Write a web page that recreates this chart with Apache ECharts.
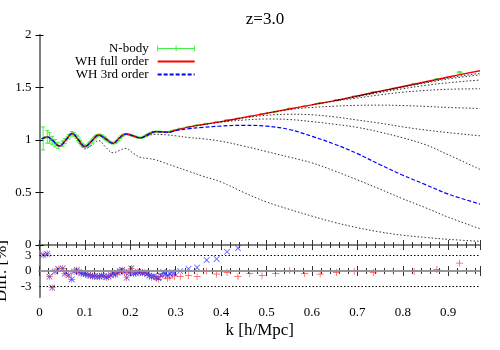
<!DOCTYPE html>
<html>
<head>
<meta charset="utf-8">
<script src="https://cdn.jsdelivr.net/npm/echarts@6/dist/echarts.min.js"></script>
</head>
<body style="margin:0">
<div id="main" style="width:500px;height:350px"></div>
<script type="text/javascript">
// k grid for the model curves (top panel)
var kTop = [0.005, 0.017, 0.03, 0.044, 0.058, 0.072, 0.086, 0.1, 0.115, 0.13, 0.146, 0.162, 0.176, 0.19,
            0.206, 0.222, 0.238, 0.255, 0.27, 0.283, 0.3, 0.33, 0.36, 0.4, 0.45, 0.5, 0.55, 0.6, 0.65,
            0.7, 0.75, 0.8, 0.85, 0.9, 0.97];
var whFull = [1.01, 1.03, 0.99, 0.942, 1.0, 1.062, 1.0, 0.937, 0.99, 1.048, 1.01, 0.968, 1.02, 1.057,
              1.04, 1.02, 1.05, 1.08, 1.078, 1.075, 1.095, 1.125, 1.148, 1.175, 1.215, 1.255, 1.295, 1.335, 1.375,
              1.42, 1.465, 1.51, 1.555, 1.6, 1.66];
var wh3rd = [1.01, 1.03, 0.99, 0.942, 1.0, 1.062, 1.0, 0.937, 0.99, 1.048, 1.01, 0.968, 1.02, 1.057,
             1.04, 1.02, 1.05, 1.08, 1.076, 1.072, 1.09, 1.108, 1.12, 1.133, 1.14, 1.132, 1.1, 1.035, 0.96,
             0.87, 0.765, 0.665, 0.575, 0.485, 0.39];
// truncated-order curves (dotted), null before they leave the full curve
var orderA = [null, null, null, null, null, null, 1.0, 0.915, 0.95, 0.995, 0.93, 0.878, 0.9, 0.92,
              0.875, 0.835, 0.825, 0.812, 0.79, 0.77, 0.745, 0.7, 0.655, 0.6, 0.5, 0.41, 0.34, 0.275, 0.215,
              0.165, 0.124, 0.093, 0.072, 0.054, 0.035];
var orderB = [null, null, null, null, null, null, null, null, null, null, null, null, null, null,
              null, 1.02, 1.04, 1.055, 1.052, 1.048, 1.04, 1.023, 1.012, 0.988, 0.942, 0.89, 0.837, 0.782, 0.705,
              0.62, 0.532, 0.44, 0.355, 0.265, 0.155];
var orderC = [null, null, null, null, null, null, null, null, null, null, null, null, null, null,
              null, null, null, null, null, null, null, 1.125, 1.145, 1.17, 1.19, 1.2, 1.195, 1.175, 1.15,
              1.12, 1.075, 1.02, 0.955, 0.86, 0.72];
var orderD = [null, null, null, null, null, null, null, null, null, null, null, null, null, null,
              null, null, null, null, null, null, null, null, null, 1.175, 1.21, 1.235, 1.245, 1.24, 1.22,
              1.19, 1.16, 1.125, 1.095, 1.07, 1.04];
var orderE = [null, null, null, null, null, null, null, null, null, null, null, null, null, null,
              null, null, null, null, null, null, null, null, null, null, null, 1.255, 1.29, 1.31, 1.322,
              1.33, 1.332, 1.328, 1.32, 1.31, 1.3];
var orderF = [null, null, null, null, null, null, null, null, null, null, null, null, null, null,
              null, null, null, null, null, null, null, null, null, null, null, null, null, 1.335, 1.37,
              1.4, 1.43, 1.455, 1.472, 1.483, 1.488];
var orderG = [null, null, null, null, null, null, null, null, null, null, null, null, null, null,
              null, null, null, null, null, null, null, null, null, null, null, null, null, null, 1.375,
              1.412, 1.452, 1.488, 1.52, 1.545, 1.571];
var orderH = [null, null, null, null, null, null, null, null, null, null, null, null, null, null,
              null, null, null, null, null, null, null, null, null, null, null, null, null, null, 1.375,
              1.418, 1.462, 1.503, 1.543, 1.582, 1.62];
var orderI = [null, null, null, null, null, null, null, null, null, null, null, null, null, null,
              null, null, null, null, null, null, null, null, null, null, null, null, null, null, null,
              1.419, 1.464, 1.507, 1.55, 1.592, 1.635];

// N-body bins
var kN = [0.008, 0.017, 0.022, 0.028, 0.034, 0.041, 0.051, 0.056, 0.064, 0.071, 0.076, 0.082, 0.087,
          0.092, 0.097, 0.102, 0.107, 0.112, 0.117, 0.122, 0.127, 0.132, 0.137, 0.142, 0.147, 0.152,
          0.157, 0.162, 0.167, 0.172, 0.177, 0.182, 0.187, 0.192, 0.197, 0.202, 0.207, 0.212, 0.217,
          0.222, 0.227, 0.232, 0.237, 0.242, 0.247, 0.252, 0.257, 0.262, 0.267, 0.272, 0.277, 0.282,
          0.287, 0.292, 0.297, 0.31, 0.328, 0.347, 0.368, 0.39, 0.413, 0.437, 0.463, 0.49, 0.52, 0.551,
          0.584, 0.618, 0.654, 0.693, 0.735, 0.779, 0.825, 0.875, 0.925];
var nbody = [1.015, 1.03, 1.02, 0.995, 0.97, 0.948, 0.965, 0.99, 1.03, 1.06, 1.055, 1.03, 0.995,
             0.965, 0.945, 0.938, 0.95, 0.975, 1.0, 1.025, 1.042, 1.048, 1.04, 1.025, 1.005, 0.988,
             0.975, 0.968, 0.975, 0.995, 1.02, 1.04, 1.053, 1.057, 1.052, 1.045, 1.038, 1.03, 1.023,
             1.02, 1.025, 1.035, 1.048, 1.06, 1.07, 1.078, 1.08, 1.08, 1.078, 1.077, 1.076, 1.076,
             1.078, 1.085, 1.092, 1.108, 1.125, 1.14, 1.155, 1.17, 1.19, 1.205, 1.225, 1.248, 1.27, 1.3,
             1.32, 1.35, 1.38, 1.415, 1.455, 1.49, 1.535, 1.58, 1.645];
var nbodyErr = [0.11, 0.06, 0.05, 0.04, 0.035, 0.03, 0.025, 0.025, 0.02, 0.02, 0.018, 0.016, 0.015,
                0.014, 0.013, 0.012, 0.012, 0.011, 0.01, 0.01, 0.01, 0.009, 0.009, 0.008, 0.008, 0.008,
                0.007, 0.007, 0.007, 0.006, 0.006, 0.006, 0.006, 0.005, 0.005, 0.005, 0.005, 0.005, 0.005,
                0.005, 0.004, 0.004, 0.004, 0.004, 0.004, 0.004, 0.004, 0.004, 0.004, 0.004, 0.004, 0.004,
                0.004, 0.004, 0.004, 0.004, 0.004, 0.004, 0.004, 0.004, 0.004, 0.004, 0.004, 0.004, 0.004, 0.004,
                0.004, 0.004, 0.004, 0.004, 0.004, 0.004, 0.004, 0.004, 0.008];
// relative difference to N-body in percent
var diff3rd = [3.1, 3.3, -1.1, -3.2, -0.1, 0.4, 0.5, -0.5, -0.8, -1.6, -0.1, 0.2, -0.2,
               -0.4, -0.5, -0.6, -0.8, -0.9, -1.0, -1.0, -1.1, -1.1, -0.9, -1.0, -1.2, -1.1,
               -0.8, -0.5, -0.7, -0.3, 0.0, 0.2, -0.2, -1.3, -0.3, 0.5, -0.5, -0.4, -0.2,
               -0.2, -0.4, -0.3, -0.6, -0.9, -1.1, -1.0, -1.2, -1.4, -0.9, -0.2, -0.5, -0.8,
               -0.5, -0.2, -0.3, 0.0, 0.4, 0.65, 2.1, 2.3, 3.7, 4.4, 6.5, 8, 10, 12,
               14, 16, 18, 20, 22, 24, 26, 28, 30];
var diffFull = [3.1, 3.3, -1.1, -3.2, -0.1, 0.4, 0.5, -0.5, -0.8, -1.6, -0.1, 0.2, -0.2,
                -0.4, -0.5, -0.6, -0.8, -0.9, -1.0, -1.0, -1.1, -1.1, -0.9, -1.0, -1.2, -1.1,
                -0.8, -0.5, -0.7, -0.3, 0.0, 0.2, -0.2, -1.3, -0.3, 0.5, -0.5, -0.4, -0.2,
                -0.2, -0.4, -0.3, -0.6, -0.9, -1.2, -1.1, -1.4, -1.6, -1.1, -0.5, -0.9, -1.4,
                -1.2, -0.8, -1.0, -1.1, -0.9, -1.1, 0.0, -0.6, -0.3, -1.1, -0.5, -0.9, -0.5, 0.1,
                -0.5, -0.6, -0.3, -0.1, -0.3, 0.0, -0.1, 0.3, 1.5];

var yTopTicks = [0, 0.5, 1, 1.5, 2];
var yDiffTicks = [-3, 0, 3];

function pairs(xs, ys) {
    var out = [];
    for (var i = 0; i < xs.length; i++) {
        if (ys[i] !== null) out.push([xs[i], ys[i]]);
    }
    return out;
}

var font = 'Liberation Serif';
var plusPath = 'path://M4.5,0H5.5V4.5H10V5.5H5.5V10H4.5V5.5H0V4.5H4.5Z';

var dom = document.getElementById('main');
var myChart = echarts.init(dom);

var orders = [orderA, orderB, orderC, orderD, orderE, orderF, orderG, orderH, orderI];
var series = [];

// N-body with error bars
series.push({
    name: 'N-body',
    type: 'custom',
    xAxisIndex: 0, yAxisIndex: 0,
    z: 1,
    data: kN.map(function (k, i) { return [k, nbody[i], nbodyErr[i]]; }),
    renderItem: function (params, api) {
        var p = api.coord([api.value(0), api.value(1)]);
        var lo = api.coord([api.value(0), api.value(1) - api.value(2)]);
        var hi = api.coord([api.value(0), api.value(1) + api.value(2)]);
        var st = { stroke: '#44ee44', lineWidth: 1 };
        return {
            type: 'group',
            children: [
                { type: 'line', shape: { x1: lo[0], y1: lo[1], x2: hi[0], y2: hi[1] }, style: st },
                { type: 'line', shape: { x1: lo[0] - 2, y1: lo[1], x2: lo[0] + 2, y2: lo[1] }, style: st },
                { type: 'line', shape: { x1: hi[0] - 2, y1: hi[1], x2: hi[0] + 2, y2: hi[1] }, style: st },
                { type: 'line', shape: { x1: p[0] - 3, y1: p[1], x2: p[0] + 3, y2: p[1] }, style: st }
            ]
        };
    },
    itemStyle: { color: '#44ee44' }
});

series.push({
    name: 'WH full order', type: 'line', xAxisIndex: 0, yAxisIndex: 0,
    data: pairs(kTop, whFull), smooth: 0.4, showSymbol: false, symbol: 'none', z: 3,
    lineStyle: { color: '#ff0000', width: 1.4 }, itemStyle: { color: '#ff0000', opacity: 0 }
});
series.push({
    name: 'WH 3rd order', type: 'line', xAxisIndex: 0, yAxisIndex: 0,
    data: pairs(kTop, wh3rd), smooth: 0.4, showSymbol: false, symbol: 'none', z: 4,
    lineStyle: { color: '#0000ff', width: 1.2, type: [4, 2] }, itemStyle: { color: '#0000ff', opacity: 0 }
});
orders.forEach(function (o, i) {
    series.push({
        name: 'order' + i, type: 'line', xAxisIndex: 0, yAxisIndex: 0,
        data: pairs(kTop, o), smooth: 0.4, showSymbol: false, symbol: 'none', z: 5,
        lineStyle: { color: '#000', width: 1, type: [1.5, 2], opacity: 0.8 }
    });
});

// lower panel
series.push({
    name: 'diffFull', type: 'scatter', xAxisIndex: 1, yAxisIndex: 1,
    data: pairs(kN, diffFull), symbol: plusPath, symbolSize: 7, z: 3, clip: true,
    itemStyle: { color: '#ff2020' },
    markLine: {
        silent: true, symbol: 'none', label: { show: false },
        data: [
            { yAxis: 0, lineStyle: { color: '#a0a0a0', type: 'solid', width: 1.5 } },
            { yAxis: 3, lineStyle: { color: '#000', type: [1.5, 2], width: 1 } },
            { yAxis: -3, lineStyle: { color: '#000', type: [1.5, 2], width: 1 } }
        ]
    }
});
series.push({
    name: 'diff3rd', type: 'scatter', xAxisIndex: 1, yAxisIndex: 1,
    data: pairs(kN, diff3rd), symbol: plusPath, symbolRotate: 45, symbolSize: 8, z: 4, clip: true,
    itemStyle: { color: '#3030ff' }
});

var axisGrey = { lineStyle: { color: '#808080', width: 2 } };

option = {
    backgroundColor: '#fff',
    animation: false,
    title: {
        text: 'z=3.0', left: 260, top: 6, textAlign: 'center',
        textStyle: { fontFamily: font, fontSize: 17, fontWeight: 'normal', color: '#000' }
    },
    legend: {
        orient: 'vertical', left: 70, top: 37, align: 'right', itemGap: 0,
        itemWidth: 37, itemHeight: 13,
        textStyle: { fontFamily: font, fontSize: 13, color: '#000', padding: [0, 4, 0, 0] },
        data: [
            { name: 'N-body', icon: 'path://M0,3V9M0,6H40M40,3V9M17,6H23M20,3V9',
              itemStyle: { color: 'none', borderColor: '#44ee44', borderWidth: 1 } },
            { name: 'WH full order', itemStyle: { opacity: 0 } },
            { name: 'WH 3rd order', itemStyle: { opacity: 0 } }
        ]
    },
    grid: [
        { left: 39.5, right: 20, top: 35, height: 210, outerBoundsMode: 'none' },
        { left: 39.5, right: 20, top: 245, height: 52, outerBoundsMode: 'none' }
    ],
    xAxis: [
        { type: 'value', gridIndex: 0, min: 0, max: 0.97, interval: 0.1,
          axisLine: axisGrey, axisLabel: { show: false },
          axisTick: { inside: true, length: 5, lineStyle: { color: '#333' } },
          minorTick: { show: true, splitNumber: 5, length: 3, lineStyle: { color: '#333' } },
          splitLine: { show: false } },
        { type: 'value', gridIndex: 1, min: 0, max: 0.97, interval: 0.1,
          name: 'k [h/Mpc]', nameLocation: 'middle', nameGap: 25,
          nameTextStyle: { fontFamily: font, fontSize: 17, color: '#000' },
          axisLine: axisGrey,
          axisLabel: { fontFamily: font, fontSize: 13, color: '#000', margin: 9,
                       formatter: function (v) { return v > 0.95 ? '' : String(+v.toFixed(1)); } },
          axisTick: { inside: true, length: 5, lineStyle: { color: '#333' } },
          minorTick: { show: true, splitNumber: 5, length: 3, lineStyle: { color: '#333' } },
          splitLine: { show: false } },
        { type: 'value', gridIndex: 0, position: 'top', min: 0, max: 0.97, interval: 0.1,
          axisLine: axisGrey, axisLabel: { show: false },
          axisTick: { inside: true, length: 5, lineStyle: { color: '#333' } },
          minorTick: { show: true, splitNumber: 5, length: 3, lineStyle: { color: '#333' } },
          splitLine: { show: false } },
        { type: 'value', gridIndex: 1, position: 'top', min: 0, max: 0.97, interval: 0.1,
          axisLine: axisGrey, axisLabel: { show: false },
          axisTick: { inside: true, length: 5, lineStyle: { color: '#333' } },
          minorTick: { show: true, splitNumber: 5, length: 3, lineStyle: { color: '#333' } },
          splitLine: { show: false } }
    ],
    yAxis: [
        { type: 'value', gridIndex: 0, min: 0, max: 2, interval: 0.5,
          axisLine: { show: true, lineStyle: { color: '#000', width: 1 } },
          axisLabel: { fontFamily: font, fontSize: 13, color: '#000', margin: 8,
                       formatter: function (v) { return yTopTicks.indexOf(v) >= 0 ? String(v) : ''; } },
          axisTick: { inside: true, length: 4, lineStyle: { color: '#000' } },
          splitLine: { show: false } },
        { type: 'value', gridIndex: 1, min: -5, max: 5, interval: 1,
          name: 'Diff. [%]', nameLocation: 'middle', nameGap: 16, nameRotate: 90,
          nameTextStyle: { fontFamily: font, fontSize: 17, color: '#000' },
          axisLine: { show: true, lineStyle: { color: '#000', width: 1 } },
          axisLabel: { fontFamily: font, fontSize: 13, color: '#000', margin: 8,
                       formatter: function (v) { return yDiffTicks.indexOf(v) >= 0 ? String(v) : ''; } },
          axisTick: { show: false },
          splitLine: { show: false } },
        { type: 'value', gridIndex: 0, position: 'right', min: 0, max: 2, interval: 0.5,
          axisLine: axisGrey, axisLabel: { show: false },
          axisTick: { inside: true, length: 4, lineStyle: { color: '#000' } },
          splitLine: { show: false } },
        { type: 'value', gridIndex: 1, position: 'right', min: -5, max: 5, interval: 1,
          axisLine: axisGrey, axisLabel: { show: false },
          axisTick: { show: false },
          splitLine: { show: false } }
    ],
    series: series
};

myChart.setOption(option);
</script>
</body>
</html>
